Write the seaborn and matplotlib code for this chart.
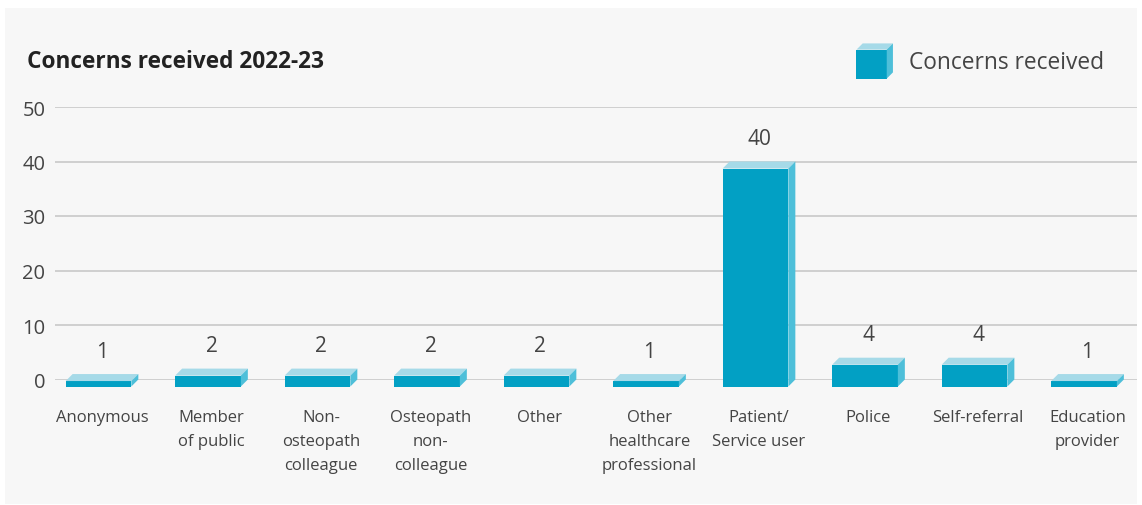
import numpy as np
import pandas as pd
import matplotlib
matplotlib.use('Agg')
import matplotlib.pyplot as plt
import seaborn as sns
from matplotlib.patches import Polygon, Rectangle
from matplotlib.legend_handler import HandlerBase

# data
categories = ['Anonymous', 'Member\nof public', 'Non-\nosteopath\ncolleague',
              'Osteopath\nnon-\ncolleague', 'Other', 'Other\nhealthcare\nprofessional',
              'Patient/\nService user', 'Police', 'Self-referral', 'Education\nprovider']
concerns = [1, 2, 2, 2, 2, 1, 40, 4, 4, 1]
yticks = [0, 10, 20, 30, 40, 50]
title = 'Concerns received 2022-23'
series_name = 'Concerns received'

front_col = '#02a0c4'
top_col = '#a6dae8'
side_col = '#4ebfd9'
text_col = '#444444'

sns.set_theme(style='white')
plt.rcParams['font.family'] = ['Open Sans', 'DejaVu Sans']

W, H = 1142, 506
fig = plt.figure(figsize=(W / 100, H / 100), dpi=100, facecolor='white')
fig.patches.append(Rectangle((5 / W, 1 / H), 1132 / W, 496 / H, transform=fig.transFigure,
                             facecolor='#f7f7f7', edgecolor='none', zorder=-10))

ax = fig.add_axes([55 / W, 125.5 / H, 1082 / W, 272.5 / H])
ax.set_facecolor('none')

df = pd.DataFrame({'source': categories, 'concerns': concerns})
sns.barplot(data=df, x='source', y='concerns', color=front_col, width=0.6,
            saturation=1, ax=ax, zorder=3)

xmin, xmax = -0.429, 9.452
ax.set_xlim(xmin, xmax)
ax.set_ylim(0, 50)

# depth of the fake 3D boxes, 7 px each way
ddx = 7 * (xmax - xmin) / 1082
ddy = 7 * 50 / 272.5

for p in list(ax.patches):
    x0, w, h = p.get_x(), p.get_width(), p.get_height()
    xl = x0 - ddx / 2
    xr = xl + w
    p.set_x(xl)
    p.set_y(-ddy)
    p.set_clip_on(False)
    p.set_edgecolor('none')
    top = Polygon([(xl, h - ddy), (xr, h - ddy), (xr + ddx, h), (xl + ddx, h)],
                  closed=True, facecolor=top_col, edgecolor='none', zorder=3, clip_on=False)
    side = Polygon([(xr, -ddy), (xr + ddx, 0), (xr + ddx, h), (xr, h - ddy)],
                   closed=True, facecolor=side_col, edgecolor='none', zorder=3, clip_on=False)
    ax.add_patch(top)
    ax.add_patch(side)

for i, v in enumerate(concerns):
    ax.annotate(str(v), (i, v), xytext=(0, 12.5), textcoords='offset points',
                ha='center', va='baseline', fontsize=15, color=text_col)

ax.set_yticks(yticks)
ax.yaxis.grid(True, color='#cccccc', linewidth=1.3)
ax.set_axisbelow(True)
for s in ax.spines.values():
    s.set_visible(False)
ax.set_xlabel('')
ax.set_ylabel('')
ax.tick_params(axis='y', length=0, pad=7, labelsize=14.5, labelcolor=text_col)
ax.tick_params(axis='x', length=0, pad=21, labelsize=12, labelcolor=text_col)
for lab in ax.get_xticklabels():
    lab.set_linespacing(1.68)
    lab.set_verticalalignment('top')

fig.text(27 / W, 1 - 62 / H, title, fontsize=16.3, fontweight='bold',
         color='#222222', va='center', ha='left')


class CubeHandler(HandlerBase):
    def create_artists(self, legend, orig_handle, xdescent, ydescent, width, height, fontsize, trans):
        x0, y0 = -xdescent, -ydescent
        d = width * 0.17
        f = Rectangle((x0, y0), width - d, height - d, facecolor=front_col, edgecolor='none', transform=trans)
        t = Polygon([(x0, y0 + height - d), (x0 + width - d, y0 + height - d),
                     (x0 + width, y0 + height), (x0 + d, y0 + height)],
                    closed=True, facecolor=top_col, edgecolor='none', transform=trans)
        s = Polygon([(x0 + width - d, y0), (x0 + width, y0 + d),
                     (x0 + width, y0 + height), (x0 + width - d, y0 + height - d)],
                    closed=True, facecolor=side_col, edgecolor='none', transform=trans)
        return [f, t, s]


handle = Rectangle((0, 0), 1, 1, facecolor=front_col)
leg = fig.legend([handle], [series_name], handler_map={Rectangle: CubeHandler()},
                 loc='center right', bbox_to_anchor=(1104 / W, 1 - 62 / H),
                 frameon=False, fontsize=16.4, handlelength=1.6, handleheight=2.0,
                 handletextpad=0.7, borderpad=0, borderaxespad=0)
for t in leg.get_texts():
    t.set_color(text_col)

fig.savefig('out.png', dpi=100, facecolor='white')
